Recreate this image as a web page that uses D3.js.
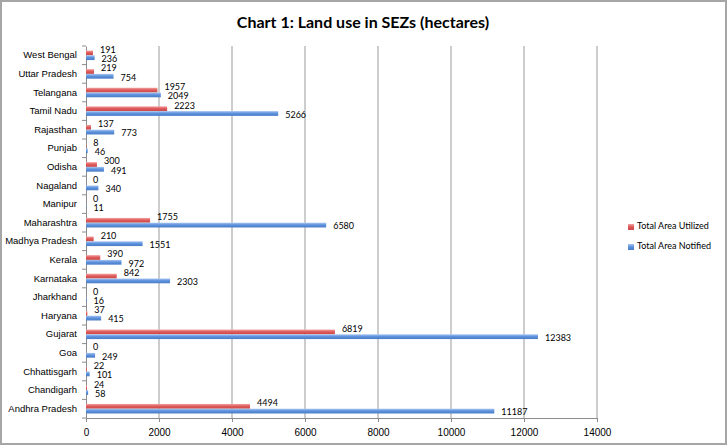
<!DOCTYPE html>
<html>
<head>
<meta charset="utf-8">
<script src="https://d3js.org/d3.v7.min.js"></script>
<style>
  body { margin: 0; background: #fff; }
  svg { display: block; font-family: Lato, "Open Sans", sans-serif; }
</style>
</head>
<body>
<div id="vis-container"></div>
<script>
// Bottom-to-top order, as in the chart
const states = ["Andhra Pradesh", "Chandigarh", "Chhattisgarh", "Goa", "Gujarat", "Haryana",
  "Jharkhand", "Karnataka", "Kerala", "Madhya Pradesh", "Maharashtra", "Manipur", "Nagaland",
  "Odisha", "Punjab", "Rajasthan", "Tamil Nadu", "Telangana", "Uttar Pradesh", "West Bengal"];
const utilized = [4494, 24, 22, 0, 6819, 37, 0, 842, 390, 210, 1755, 0, 0, 300, 8, 137, 2223, 1957, 219, 191];
const notified = [11187, 58, 101, 249, 12383, 415, 16, 2303, 972, 1551, 6580, 11, 340, 491, 46, 773, 5266, 2049, 754, 236];
const xTicks = [0, 2000, 4000, 6000, 8000, 10000, 12000, 14000];
const seriesNames = ["Total Area Utilized", "Total Area Notified"];

const width = 727, height = 445;
const plot = { left: 86, right: 597, top: 46, bottom: 418 };

const svg = d3.select("#vis-container").append("svg")
  .attr("width", width).attr("height", height);

// frame
svg.append("rect").attr("x", 1).attr("y", 1).attr("width", width - 2).attr("height", height - 2)
  .attr("fill", "#fff").attr("stroke", "#a6a6a6").attr("stroke-width", 2);

const defs = svg.append("defs");
function grad(id, light, mid, dark) {
  const g = defs.append("linearGradient").attr("id", id)
    .attr("x1", 0).attr("y1", 0).attr("x2", 0).attr("y2", 1);
  g.append("stop").attr("offset", "0%").attr("stop-color", light);
  g.append("stop").attr("offset", "45%").attr("stop-color", mid);
  g.append("stop").attr("offset", "100%").attr("stop-color", dark);
}
grad("gRed", "#f2a3a3", "#e05b5b", "#c94848");
grad("gBlue", "#a9c6f0", "#5f93de", "#4a7cc6");

const x = d3.scaleLinear().domain([0, 14000]).range([plot.left, plot.right]);
const y = d3.scaleBand().domain(states).range([plot.bottom, plot.top]);
const inner = d3.scaleBand().domain(seriesNames).range([0, y.bandwidth()]).paddingInner(0).paddingOuter(0.95);

// gridlines
svg.append("g").selectAll("line").data(xTicks.slice(1)).enter().append("line")
  .attr("x1", d => x(d)).attr("x2", d => x(d))
  .attr("y1", plot.top).attr("y2", plot.bottom)
  .attr("stroke", "#bdbdbd").attr("stroke-width", 1.5);

// x axis
const xAxis = svg.append("g").attr("transform", `translate(0,${plot.bottom})`)
  .call(d3.axisBottom(x).tickValues(xTicks).tickFormat(d3.format("d")).tickSize(4).tickSizeOuter(0).tickPadding(7));
xAxis.select(".domain").attr("stroke", "#8c8c8c");
xAxis.selectAll(".tick line").attr("stroke", "#8c8c8c");
xAxis.selectAll("text").attr("font-size", 10).attr("fill", "#000");

// y axis
const yAxis = svg.append("g").attr("transform", `translate(${plot.left},0)`)
  .call(d3.axisLeft(y).tickSize(0).tickPadding(9));
yAxis.select(".domain").attr("stroke", "#8c8c8c");
yAxis.selectAll("text").attr("font-size", 9.5).attr("fill", "#000");
// category separator ticks
svg.append("g").selectAll("line").data(d3.range(states.length + 1)).enter().append("line")
  .attr("x1", plot.left - 4).attr("x2", plot.left)
  .attr("y1", i => plot.bottom - i * y.step()).attr("y2", i => plot.bottom - i * y.step())
  .attr("stroke", "#8c8c8c");

const rows = states.map((s, i) => ({ state: s, vals: [utilized[i], notified[i]] }));
const fills = ["url(#gRed)", "url(#gBlue)"];

const groups = svg.append("g").selectAll("g").data(rows).enter().append("g")
  .attr("transform", d => `translate(0,${y(d.state)})`);

seriesNames.forEach((name, k) => {
  groups.append("rect")
    .attr("x", x(0))
    .attr("y", inner(name))
    .attr("width", d => Math.max(0, x(d.vals[k]) - x(0)))
    .attr("height", inner.bandwidth())
    .attr("fill", fills[k]);
  groups.append("text")
    .attr("x", d => x(d.vals[k]) + 7)
    .attr("y", inner(name) + inner.bandwidth() / 2 + (k === 0 ? -2.5 : 2))
    .attr("dominant-baseline", "middle")
    .attr("font-size", 9)
    .text(d => d.vals[k]);
});

// title
svg.append("text").attr("x", 363).attr("y", 28).attr("text-anchor", "middle")
  .attr("font-size", 16).attr("font-weight", "bold").text("Chart 1: Land use in SEZs (hectares)");

// legend
const legend = svg.append("g").attr("transform", "translate(628,227)");
seriesNames.forEach((name, k) => {
  legend.append("rect").attr("x", 0).attr("y", k * 20 - 3).attr("width", 6).attr("height", 6)
    .attr("fill", fills[k]);
  legend.append("text").attr("x", 9).attr("y", k * 20).attr("dominant-baseline", "middle")
    .attr("font-size", 9).text(name);
});
</script>
</body>
</html>
